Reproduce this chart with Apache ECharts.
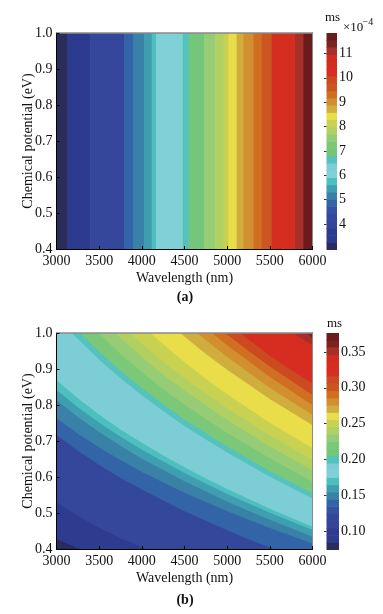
<!DOCTYPE html>
<html><head><meta charset="utf-8">
<script src="https://cdn.jsdelivr.net/npm/echarts@6/dist/echarts.min.js"></script>
<style>html,body{margin:0;padding:0;background:#fff}#c{width:383px;height:614px}</style>
</head><body><div id="c"></div>
<script>
// ---------------- data ----------------
const wavelengthTicks = [3000, 3500, 4000, 4500, 5000, 5500, 6000];
const potentialTicks = [0.4, 0.5, 0.6, 0.7, 0.8, 0.9, 1.0];

// (a) value depends on wavelength only: band edges (nm) and value in each band (x1e-4 ms)
const bandEdgesA = [3000, 3127, 3393, 3791, 3900, 4025, 4116, 4166, 4480, 4550, 4730, 4860, 4960, 5015, 5110, 5190, 5306, 5405, 5522, 5795, 5892, 6000];
const bandValuesA = [3.08, 3.5, 4.2, 4.86, 5.15, 5.45, 5.75, 6.15, 6.64, 7.0, 7.53, 7.83, 8.13, 8.42, 8.72, 9.02, 9.32, 9.6, 10.4, 11.1, 11.6];
const colorbarRangeA = [2.93, 11.84];
const colorbarTicksA = [4, 5, 6, 7, 8, 9, 10, 11];

// (b) contour levels (ms) and the contour lines, as [wavelength, chemical potential] points
const colorbarRangeB = [0.0735, 0.3765];
const colorbarTicksB = [0.10, 0.15, 0.20, 0.25, 0.30, 0.35];
const contourLevelsB = [0.084, 0.104, 0.134, 0.144, 0.154, 0.164, 0.175, 0.195, 0.205, 0.225, 0.235, 0.245, 0.255, 0.265, 0.276, 0.286, 0.296, 0.316, 0.346, 0.356];
const c01 = [[3000,0.428],[3140,0.413],[3275,0.400]];
const c02 = [[3000,0.530],[3250,0.492],[3500,0.459],[3750,0.430],[4000,0.405],[4050,0.400]];
const c03 = [[3000,0.717],[3250,0.673],[3500,0.633],[3750,0.597],[4000,0.565],[4500,0.505],[5000,0.452],[5250,0.427],[5545,0.400]];
const c04 = [[3000,0.763],[3250,0.720],[3500,0.682],[3750,0.647],[4000,0.614],[4500,0.556],[5000,0.505],[5500,0.458],[6000,0.415]];
const c05 = [[3000,0.814],[3250,0.767],[3500,0.725],[3750,0.687],[4000,0.651],[4500,0.588],[5000,0.531],[5500,0.481],[6000,0.434]];
const c06 = [[3000,0.842],[3250,0.794],[3500,0.751],[3750,0.712],[4000,0.676],[4500,0.611],[5000,0.553],[5500,0.501],[6000,0.453]];
const c07 = [[3000,0.869],[3250,0.819],[3500,0.773],[3750,0.732],[4000,0.695],[4250,0.660],[4500,0.627],[4750,0.596],[5000,0.567],[5500,0.512],[6000,0.462]];
const c08 = [[3180,1.0],[3500,0.926],[3750,0.874],[4000,0.827],[4250,0.783],[4500,0.742],[4750,0.704],[5000,0.668],[5500,0.601],[6000,0.540]];
const c09 = [[3277,1.0],[3500,0.948],[3750,0.895],[4000,0.847],[4250,0.802],[4500,0.760],[4750,0.722],[5000,0.685],[5500,0.617],[6000,0.555]];
const c10 = [[3492,1.0],[3750,0.942],[4000,0.892],[4250,0.844],[4500,0.801],[5000,0.722],[5500,0.652],[6000,0.587]];
const c11 = [[3687,1.0],[4000,0.933],[4250,0.884],[4500,0.840],[5000,0.758],[5500,0.685],[6000,0.619]];
const c12 = [[3863,1.0],[4000,0.971],[4250,0.920],[4500,0.874],[5000,0.790],[5500,0.715],[6000,0.647]];
const c13 = [[4098,1.0],[4500,0.919],[4750,0.873],[5000,0.830],[5500,0.751],[6000,0.680]];
const c14 = [[4449,1.0],[4750,0.942],[5000,0.898],[5500,0.817],[6000,0.744]];
const c15 = [[4644,1.0],[5000,0.933],[5500,0.848],[6000,0.772]];
const c16 = [[4820,1.0],[5000,0.966],[5500,0.878],[6000,0.800]];
const c17 = [[4976,1.0],[5250,0.950],[5500,0.907],[6000,0.828]];
const c18 = [[5152,1.0],[5500,0.937],[5750,0.897],[6000,0.860]];
const c19 = [[5777,1.0],[5890,0.981],[6000,0.967]];
const c20 = [[5933,1.0],[6000,0.985]];
const contourLinesB = [c01,c02,c03,c04,c05,c06,c07,c08,c09,c10,c11,c12,c13,c14,c15,c16,c17,c18,c19,c20];

// ---------------- style ----------------
const levelCount = 30;
const palette = ['#2b2c5a','#2c3b8e','#2e3c90','#34449a','#35479b','#3452a0','#3464a8','#3a81a8','#3f9eb0','#4dbfbe',
  '#80d0d8','#7ccdd5','#55c3bc','#74c67b','#7bc878','#96cc76','#b2d062','#c9d152','#e9de4a','#d0ae3e',
  '#d18f2f','#d06f22','#cc5521','#cb4a1f','#d42f22','#d52e21','#d02c21','#a63027','#7e2220','#6b1b1b'];
const FONT = 'Liberation Serif';
const TXT = '#111';

function colorFor(v, range) {
  let k = Math.floor((v - range[0]) / (range[1] - range[0]) * levelCount);
  k = Math.max(0, Math.min(levelCount - 1, k));
  return palette[k];
}
const xMin = wavelengthTicks[0], xMax = wavelengthTicks[wavelengthTicks.length - 1];
const yMin = potentialTicks[0], yMax = potentialTicks[potentialTicks.length - 1];

function closePolygon(line) {
  const pts = line.slice();
  const first = pts[0], last = pts[pts.length - 1];
  if (last[1] <= yMin) pts.push([xMax, yMin]);
  pts.push([xMax, yMax]);
  if (first[0] <= xMin) pts.push([xMin, yMax]);
  return pts;
}

const grids = [
  {left: 56.5, top: 33, width: 256, height: 216},
  {left: 326.5, top: 33, width: 10.5, height: 217},
  {left: 56.5, top: 333, width: 256, height: 216},
  {left: 326.5, top: 333, width: 12.5, height: 217}
];
const lbl = {fontFamily: FONT, fontSize: 14, color: TXT};

function mainX(g) {
  return {type: 'value', gridIndex: g, min: xMin, max: xMax, interval: 500, z: 5,
    axisLine: {show: true, onZero: false, lineStyle: {color: '#000', width: 1}},
    axisTick: {show: true, inside: true, length: 3, lineStyle: {color: '#000'}},
    axisLabel: Object.assign({margin: 5, showMinLabel: true, showMaxLabel: true, formatter: v => String(Math.round(v))}, lbl),
    splitLine: {show: false},
    name: 'Wavelength (nm)', nameLocation: 'middle', nameGap: 22, nameMoveOverlap: false, nameTextStyle: lbl};
}
function mainY(g) {
  return {type: 'value', gridIndex: g, min: yMin, max: yMax, interval: 0.1, z: 5,
    axisLine: {show: true, onZero: false, lineStyle: {color: '#000', width: 1}},
    axisTick: {show: true, inside: true, length: 3, lineStyle: {color: '#000'}},
    axisLabel: Object.assign({margin: 4, showMinLabel: true, showMaxLabel: true, formatter: v => v.toFixed(1)}, lbl),
    splitLine: {show: false},
    name: 'Chemical potential (eV)', nameLocation: 'middle', nameGap: 21.5, nameMoveOverlap: false, nameTextStyle: lbl};
}
function frameX(g) {
  return {type: 'value', gridIndex: g, position: 'top', min: xMin, max: xMax, z: 5,
    axisLine: {show: true, onZero: false, lineStyle: {color: '#8a8a8a', width: 1.5}},
    axisTick: {show: false}, axisLabel: {show: false}, splitLine: {show: false}};
}
function frameY(g) {
  return {type: 'value', gridIndex: g, position: 'right', min: yMin, max: yMax, z: 5,
    axisLine: {show: true, onZero: false, lineStyle: {color: '#8a8a8a', width: 1}},
    axisTick: {show: false}, axisLabel: {show: false}, splitLine: {show: false}};
}
function cbX(g) {
  return {type: 'value', gridIndex: g, min: 0, max: 1, show: false};
}
function cbY(g, range, ticks, digits) {
  return {type: 'value', gridIndex: g, position: 'right', min: range[0], max: range[1], z: 5,
    axisLine: {show: false},
    axisTick: {show: true, inside: true, length: 2.5, customValues: ticks, lineStyle: {color: '#333'}},
    axisLabel: Object.assign({margin: 2, customValues: ticks, formatter: v => Number(v).toFixed(digits)}, lbl),
    splitLine: {show: false}};
}

function colorbarSeries(idx, range) {
  const step = (range[1] - range[0]) / levelCount;
  return {type: 'custom', xAxisIndex: idx, yAxisIndex: idx, z: 1, clip: true, silent: true,
    data: palette.map((c, k) => [0.5, range[0] + (k + 0.5) * step, k]),
    renderItem(params, api) {
      const k = api.value(2);
      const lo = range[0] + k * step, hi = lo + step;
      const p1 = api.coord([0, hi]), p2 = api.coord([1, lo]);
      return {type: 'rect', shape: {x: p1[0], y: p1[1] - 0.3, width: p2[0] - p1[0], height: p2[1] - p1[1] + 0.6},
        style: {fill: palette[k]}};
    }};
}

const option = {
  animation: false,
  backgroundColor: '#fff',
  grid: grids,
  xAxis: [mainX(0), frameX(0), cbX(1), mainX(2), frameX(2), cbX(3)],
  yAxis: [mainY(0), frameY(0), cbY(1, colorbarRangeA, colorbarTicksA, 0), mainY(2), frameY(2), cbY(3, colorbarRangeB, colorbarTicksB, 2)],
  series: [
    {type: 'custom', xAxisIndex: 0, yAxisIndex: 0, z: 1, clip: true, silent: true,
      data: bandValuesA.map((v, i) => [bandEdgesA[i], yMin, bandEdgesA[i + 1], v]),
      renderItem(params, api) {
        const cs = params.coordSys;
        const x0 = api.coord([api.value(0), yMin])[0];
        const x1 = api.coord([api.value(2), yMin])[0];
        return {type: 'rect', shape: {x: x0, y: cs.y, width: x1 - x0 + 0.6, height: cs.height},
          style: {fill: colorFor(api.value(3), colorbarRangeA)}};
      }},
    colorbarSeries(2, colorbarRangeA),
    {type: 'custom', xAxisIndex: 3, yAxisIndex: 3, z: 1, clip: true, silent: true,
      data: [[xMin, yMin, -1]].concat(contourLinesB.map((line, i) => [line[0][0], line[0][1], i])),
      renderItem(params, api) {
        const i = api.value(2);
        const cs = params.coordSys;
        if (i < 0) {
          return {type: 'rect', shape: {x: cs.x, y: cs.y, width: cs.width, height: cs.height},
            style: {fill: colorFor((colorbarRangeB[0] + contourLevelsB[0]) / 2, colorbarRangeB)}};
        }
        const upper = i + 1 < contourLevelsB.length ? contourLevelsB[i + 1] : colorbarRangeB[1];
        const pts = closePolygon(contourLinesB[i]).map(p => api.coord(p));
        return {type: 'polygon', shape: {points: pts},
          style: {fill: colorFor((contourLevelsB[i] + upper) / 2, colorbarRangeB)}};
      }},
    colorbarSeries(5, colorbarRangeB)
  ],
  graphic: [
    {type: 'text', x: 185, y: 297, style: {text: '(a)', fontFamily: FONT, fontSize: 14, fontWeight: 'bold', fill: TXT, align: 'center', verticalAlign: 'middle'}},
    {type: 'text', x: 185, y: 600, style: {text: '(b)', fontFamily: FONT, fontSize: 14, fontWeight: 'bold', fill: TXT, align: 'center', verticalAlign: 'middle'}},
    {type: 'text', x: 332.5, y: 18, style: {text: 'ms', fontFamily: FONT, fontSize: 13, fill: TXT, align: 'center', verticalAlign: 'middle'}},
    {type: 'text', x: 343, y: 28, style: {text: '×10', fontFamily: FONT, fontSize: 13, fill: TXT, align: 'left', verticalAlign: 'middle'}},
    {type: 'text', x: 362.5, y: 22, style: {text: '−4', fontFamily: FONT, fontSize: 10, fill: TXT, align: 'left', verticalAlign: 'middle'}},
    {type: 'text', x: 334.5, y: 324, style: {text: 'ms', fontFamily: FONT, fontSize: 13, fill: TXT, align: 'center', verticalAlign: 'middle'}}
  ]
};
const chart = echarts.init(document.getElementById('c'), null, {renderer: 'canvas', width: 383, height: 614});
chart.setOption(option);
</script>
</body></html>
